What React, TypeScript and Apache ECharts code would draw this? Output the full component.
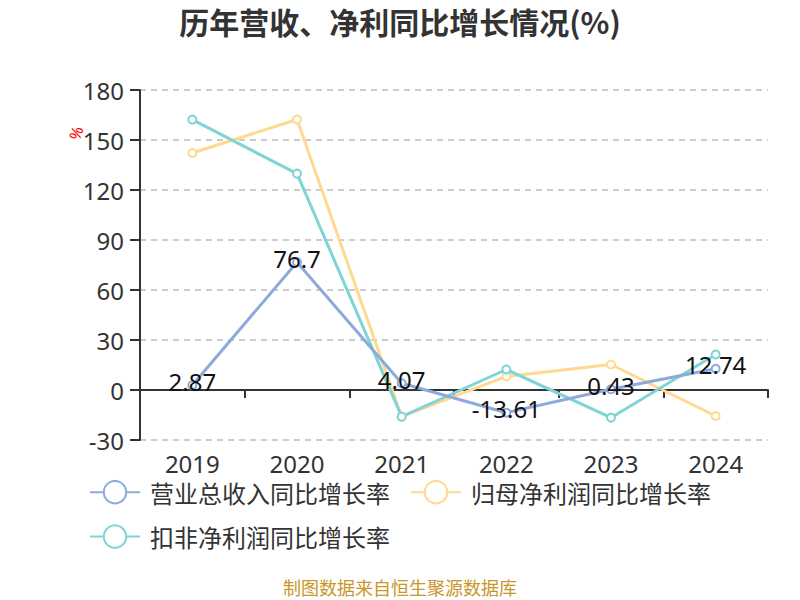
import React, { useEffect, useRef } from "react";
import * as echarts from "echarts";

const years = ["2019", "2020", "2021", "2022", "2023", "2024"];
const revenueGrowth = [2.87, 76.7, 4.07, -13.61, 0.43, 12.74];
const netProfitGrowth = [142.2, 162.3, -16.0, 8.2, 15.3, -15.6];
const deductedProfitGrowth = [162.2, 129.8, -16.0, 12.3, -16.6, 21.3];
const seriesNames = ["营业总收入同比增长率", "归母净利润同比增长率", "扣非净利润同比增长率"];
const yTicks = { min: -30, max: 180, interval: 30 };

const FONT = "'Noto Sans', 'Noto Sans CJK SC', sans-serif";
const CJK = "'Noto Sans CJK SC', sans-serif";

export default function App() {
  const ref = useRef<HTMLDivElement>(null);
  useEffect(() => {
    if (!ref.current) return;
    const chart = echarts.init(ref.current, undefined, { renderer: "svg" });
    const mkSeries = (name: string, data: number[], color: string, showLabel: boolean) => ({
      name,
      type: "line",
      data,
      symbol: "emptyCircle",
      symbolSize: 8,
      itemStyle: { color, borderWidth: 2 },
      lineStyle: { color, width: 3 },
      label: showLabel
        ? {
            show: true,
            position: "inside",
            offset: [0, -4],
            color: "#111",
            fontSize: 24,
            fontFamily: FONT,
          }
        : { show: false },
      z: showLabel ? 3 : 2,
    });
    chart.setOption({
      animation: false,
      backgroundColor: "#fff",
      textStyle: { fontFamily: FONT },
      title: {
        text: "历年营收、净利同比增长情况(%)",
        left: "center",
        top: 1,
        textStyle: { fontSize: 30, fontWeight: "bold", color: "#333", fontFamily: CJK },
      },
      legend: {
        top: 475,
        left: "center",
        width: 700,
        itemWidth: 50,
        itemHeight: 28,
        itemGap: 20,
        textStyle: { fontSize: 24, color: "#333", fontFamily: CJK, padding: [0, 0, 0, 5] },
        data: seriesNames,
      },
      grid: { left: 140, right: 32, top: 90, bottom: 160, containLabel: false },
      xAxis: {
        type: "category",
        data: years,
        boundaryGap: true,
        axisLine: { onZero: true, lineStyle: { color: "#333", width: 2 } },
        axisTick: { show: true, length: 8, lineStyle: { color: "#333", width: 2 } },
        axisLabel: { fontSize: 24, color: "#333", margin: 11, fontFamily: FONT },
      },
      yAxis: {
        type: "value",
        min: yTicks.min,
        max: yTicks.max,
        interval: yTicks.interval,
        axisLine: { show: true, lineStyle: { color: "#333", width: 2 } },
        axisTick: { show: true, length: 10, lineStyle: { color: "#333", width: 2 } },
        axisLabel: { fontSize: 24, color: "#333", margin: 16, fontFamily: FONT },
        splitLine: { show: true, lineStyle: { color: "#ccc", width: 2, type: [6, 5] } },
      },
      graphic: [
        {
          type: "text",
          x: 76,
          y: 133,
          rotation: Math.PI * 0.4,
          style: {
            text: "%",
            fill: "#f00",
            fontSize: 16,
            fontFamily: FONT,
            align: "center",
            verticalAlign: "middle",
          },
        },
        {
          type: "text",
          left: "center",
          top: 578,
          style: {
            text: "制图数据来自恒生聚源数据库",
            fill: "#C8962B",
            fontSize: 18,
            fontFamily: CJK,
          },
        },
      ],
      series: [
        mkSeries(seriesNames[0], revenueGrowth, "#8EAADB", true),
        mkSeries(seriesNames[1], netProfitGrowth, "#FFD98F", false),
        mkSeries(seriesNames[2], deductedProfitGrowth, "#7FD5D5", false),
      ],
    });
    return () => chart.dispose();
  }, []);
  return (
    <div
      ref={ref}
      style={{ position: "fixed", left: 0, top: 0, width: 800, height: 600 }}
    />
  );
}
